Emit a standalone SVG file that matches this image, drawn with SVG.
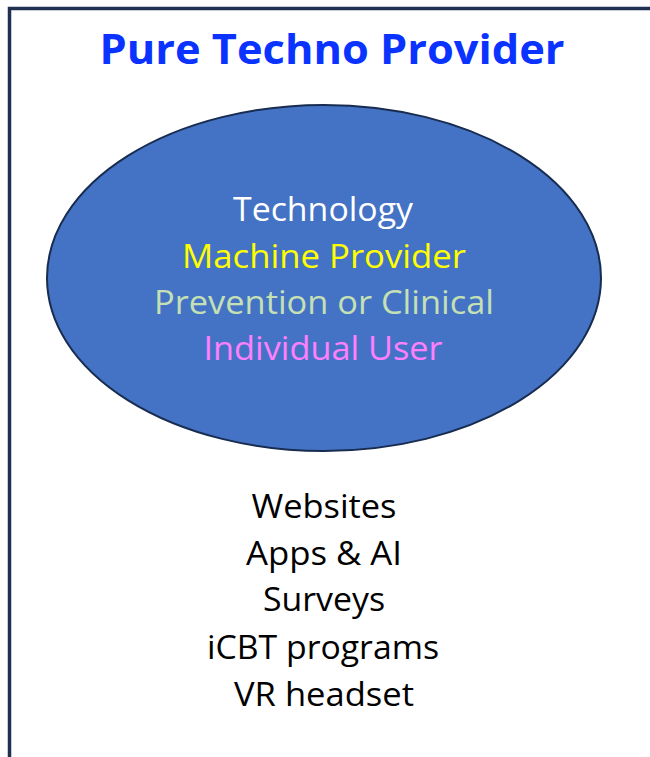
<svg xmlns="http://www.w3.org/2000/svg" width="650" height="757" viewBox="0 0 650 757">
<style>
.t{font-family:"Open Sans","Liberation Sans",sans-serif;text-anchor:middle;}
.in{font-size:33px;}
.li{font-size:33px;fill:#000;}
</style>
<rect width="650" height="757" fill="#fff"/>
<g id="frame">
<rect x="9.5" y="8.5" width="660" height="780" fill="none" stroke="#1F3050" stroke-width="3.5"/>
</g>
<g id="title">
<text class="t" x="332" y="64" font-size="41" font-weight="bold" fill="#0A33FF" textLength="465" lengthAdjust="spacingAndGlyphs">Pure Techno Provider</text>
</g>
<g id="tech">
<ellipse cx="324" cy="278" rx="277" ry="173" fill="#4472C4" stroke="#172C4F" stroke-width="2"/>
<text class="t in" x="323" y="221" fill="#FFFFFF" textLength="180" lengthAdjust="spacingAndGlyphs">Technology</text>
<text class="t in" x="324" y="268" fill="#FFFF00" textLength="284" lengthAdjust="spacingAndGlyphs">Machine Provider</text>
<text class="t in" x="324" y="314" fill="#C5E0B4" textLength="340" lengthAdjust="spacingAndGlyphs">Prevention or Clinical</text>
<text class="t in" x="323" y="360" fill="#FF80FF" textLength="239" lengthAdjust="spacingAndGlyphs">Individual User</text>
</g>
<g id="list">
<text class="t li" x="324" y="518" textLength="145" lengthAdjust="spacingAndGlyphs">Websites</text>
<text class="t li" x="324" y="565" textLength="156" lengthAdjust="spacingAndGlyphs">Apps &amp; AI</text>
<text class="t li" x="324" y="611" textLength="122" lengthAdjust="spacingAndGlyphs">Surveys</text>
<text class="t li" x="323" y="659" textLength="232" lengthAdjust="spacingAndGlyphs">iCBT programs</text>
<text class="t li" x="324" y="706" textLength="180" lengthAdjust="spacingAndGlyphs">VR headset</text>
</g>
</svg>
